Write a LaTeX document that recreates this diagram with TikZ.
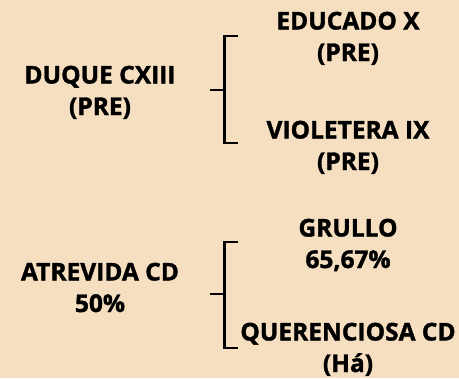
\documentclass[tikz,border=0pt]{standalone}
\usepackage{fontspec}
\setmainfont{Open Sans}[BoldFeatures={FakeBold=1.5}]
\definecolor{bg}{HTML}{F6DFC0}
\begin{document}
\begin{tikzpicture}[x=1bp,y=-1bp,
  lbl/.style={font=\bfseries\fontsize{24.5bp}{31.5bp}\selectfont, align=center, inner sep=0pt, text=black, anchor=base},
  brk/.style={line width=2.4bp, black}]
\fill[bg] (0,0) rectangle (459,378);
\useasboundingbox (0,0) rectangle (459,378);
% top group (anchor = baseline of the last line)
\node[lbl] (duque) at (100,115) {DUQUE CXIII\\(PRE)};
\node[lbl] (educado) at (348,61) {EDUCADO X\\(PRE)};
\node[lbl] (violetera) at (348,170) {VIOLETERA IX\\(PRE)};
\coordinate (t1) at (238,36);
\coordinate (t2) at (224.3,36);
\coordinate (t3) at (224.3,143);
\coordinate (t4) at (238,143);
\coordinate (tm) at (224.3,89.7);
\coordinate (ts) at (210,89.7);
\draw[brk] (t1) -- (t2) -- (t3) -- (t4);
\draw[brk] (ts) -- (tm);
% bottom group
\node[lbl] (atrevida) at (100,312) {ATREVIDA CD\\50\%};
\node[lbl] (grullo) at (348,268) {GRULLO\\65,67\%};
\node[lbl] (querenciosa) at (348,372) {QUERENCIOSA CD\\(Há)};
\coordinate (b1) at (238,242);
\coordinate (b2) at (224.3,242);
\coordinate (b3) at (224.3,348);
\coordinate (b4) at (238,348);
\coordinate (bm) at (224.3,294);
\coordinate (bs) at (210,294);
\draw[brk] (b1) -- (b2) -- (b3) -- (b4);
\draw[brk] (bs) -- (bm);
\end{tikzpicture}
\end{document}
